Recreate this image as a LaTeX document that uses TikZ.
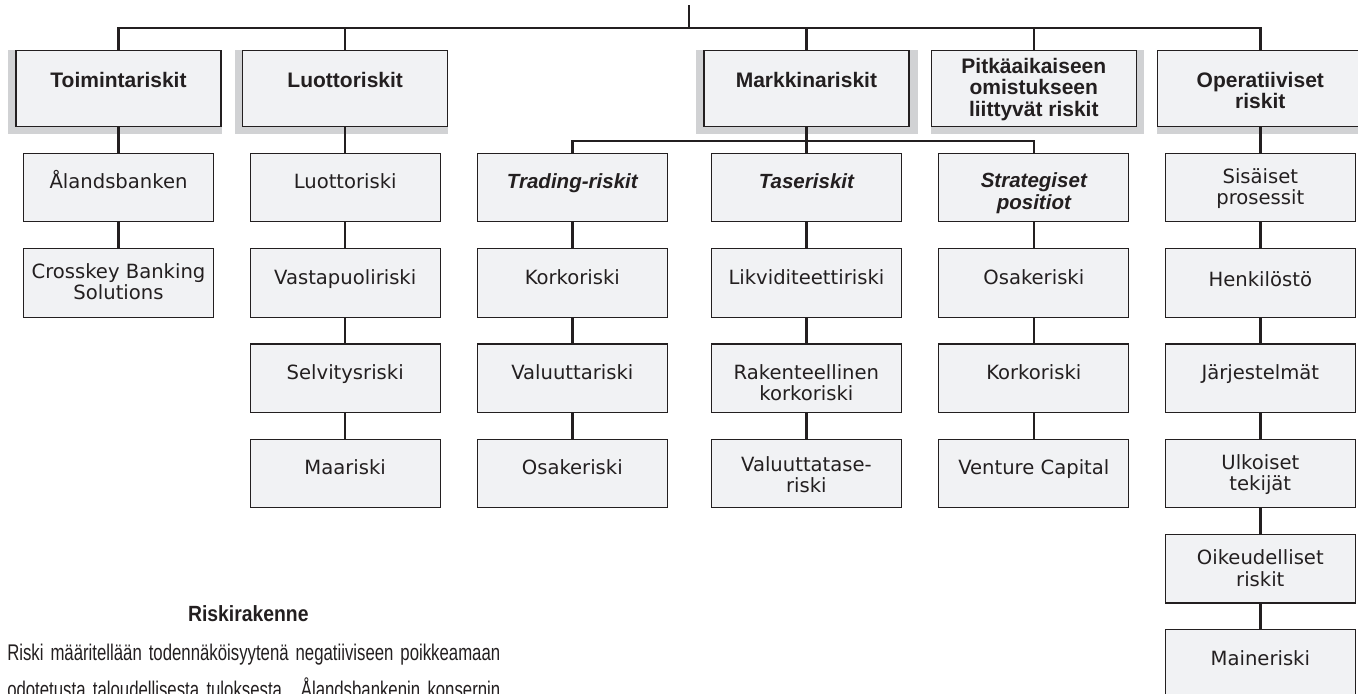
\documentclass[tikz,border=0pt]{standalone}
\usepackage{fontspec}
\usepackage{graphicx}
\setmainfont{DejaVu Sans}
\newfontfamily\hfam{Liberation Sans}
\usetikzlibrary{calc,backgrounds}
\definecolor{boxfill}{RGB}{241,242,244}
\definecolor{shadowgray}{RGB}{209,210,212}
\definecolor{ink}{RGB}{35,31,32}
\newcommand\ml[1]{\begin{tabular}[t]{@{}c@{}}#1\end{tabular}}
\newcommand\mkbox[7]{%
  \node[#1] (#2) at (#3,#4) {};
  \node[#5] (#2t) at ($(#2.north)+(0,#6)$) {\ml{#7}};}
\newcommand\bodyline[1]{\scalebox{0.74}[1]{\makebox[499.7pt][s]{#1}}}
\begin{document}
\begin{tikzpicture}[x=0.75pt,y=-0.75pt,
  topbox/.style={draw=ink, fill=boxfill, line width=0.9pt, minimum width=153.75pt, minimum height=57pt, anchor=north, inner sep=0pt},
  subbox/.style={draw=ink, fill=boxfill, line width=0.9pt, minimum width=142.5pt, minimum height=51.4pt, anchor=north, inner sep=0pt},
  toptext/.style={anchor=base, inner sep=0pt, text=ink, font=\hfam\bfseries\fontsize{15.75}{16}\selectfont},
  subtext/.style={anchor=base, inner sep=0pt, text=ink, font=\fontsize{14.7}{15.5}\selectfont},
  headtext/.style={anchor=base, inner sep=0pt, text=ink, font=\hfam\bfseries\itshape\fontsize{15.4}{16}\selectfont},
  conn/.style={draw=ink, line width=1.9pt},
  bodytext/.style={anchor=base west, inner sep=0pt, text=ink, font=\hfam\fontsize{17}{19}\selectfont}
]
\useasboundingbox (0,0) rectangle (1358,693);
\clip (0,0) rectangle (1358,693);

% top level
\mkbox{topbox}{t1}{118.5}{50}{toptext}{37}{Toimintariskit}
\mkbox{topbox}{t2}{345.2}{50}{toptext}{37}{Luottoriskit}
\mkbox{topbox}{t3}{806.4}{50}{toptext}{37}{Markkinariskit}
\mkbox{topbox}{t4}{1033.8}{50}{toptext}{23}{Pitkäaikaiseen\\omistukseen\\liittyvät riskit}
\mkbox{topbox}{t5}{1260.3}{50}{toptext}{37}{Operatiiviset\\riskit}

% column A
\mkbox{subbox}{a1}{118.5}{152.7}{subtext}{36}{Ålandsbanken}
\mkbox{subbox}{a2}{118.5}{248}{subtext}{30}{Crosskey Banking\\Solutions}
% column B
\mkbox{subbox}{b1}{345.2}{152.7}{subtext}{36}{Luottoriski}
\mkbox{subbox}{b2}{345.2}{248}{subtext}{36}{Vastapuoliriski}
\mkbox{subbox}{b3}{345.2}{343.3}{subtext}{36}{Selvitysriski}
\mkbox{subbox}{b4}{345.2}{438.6}{subtext}{36}{Maariski}
% column C
\mkbox{subbox}{c1}{572.3}{152.7}{headtext}{36}{Trading-riskit}
\mkbox{subbox}{c2}{572.3}{248}{subtext}{36}{Korkoriski}
\mkbox{subbox}{c3}{572.3}{343.3}{subtext}{36}{Valuuttariski}
\mkbox{subbox}{c4}{572.3}{438.6}{subtext}{36}{Osakeriski}
% column D
\mkbox{subbox}{d1}{806.4}{152.7}{headtext}{36}{Taseriskit}
\mkbox{subbox}{d2}{806.4}{248}{subtext}{36}{Likviditeettiriski}
\mkbox{subbox}{d3}{806.4}{343.3}{subtext}{36}{Rakenteellinen\\korkoriski}
\mkbox{subbox}{d4}{806.4}{438.6}{subtext}{33}{Valuuttatase-\\riski}
% column E
\mkbox{subbox}{e1}{1033.8}{152.7}{headtext}{35}{Strategiset\\positiot}
\mkbox{subbox}{e2}{1033.8}{248}{subtext}{36}{Osakeriski}
\mkbox{subbox}{e3}{1033.8}{343.3}{subtext}{36}{Korkoriski}
\mkbox{subbox}{e4}{1033.8}{438.6}{subtext}{36}{Venture Capital}
% column F
\mkbox{subbox}{f1}{1260.3}{152.7}{subtext}{31}{Sisäiset\\prosessit}
\mkbox{subbox}{f2}{1260.3}{248}{subtext}{38}{Henkilöstö}
\mkbox{subbox}{f3}{1260.3}{343.3}{subtext}{36}{Järjestelmät}
\mkbox{subbox}{f4}{1260.3}{438.6}{subtext}{31}{Ulkoiset\\tekijät}
\mkbox{subbox}{f5}{1260.3}{533.9}{subtext}{31}{Oikeudelliset\\riskit}
\mkbox{subbox}{f6}{1260.3}{629.1}{subtext}{36}{Maineriski}

% shadows
\begin{pgfonlayer}{background}
  \fill[shadowgray] ($(t1.north west)+(-7,0)$) rectangle ($(t1.south east)+(0,7)$);
  \fill[shadowgray] ($(t2.north west)+(-7,0)$) rectangle ($(t2.south east)+(0,7)$);
  \fill[shadowgray] ($(t3.north west)+(-7,0)$) rectangle ($(t3.south east)+(8,7)$);
  \fill[shadowgray] (t4.north west) rectangle ($(t4.south east)+(7,7)$);
  \fill[shadowgray] (t5.north west) rectangle ($(t5.south east)+(7,7)$);
\end{pgfonlayer}

% connectors
\coordinate (root) at (689,5);
\coordinate (bus) at (689,28);
\draw[conn] (root) -- (bus);
\draw[conn] (t1.north) |- (bus) -| (t5.north);
\foreach \n in {t2,t3,t4} \draw[conn] (\n.north) -- (\n.north |- bus);

\coordinate (mbus) at (806.4,141);
\draw[conn] (t3.south) -- (mbus);
\draw[conn] (c1.north) |- (mbus) -| (e1.north);
\draw[conn] (d1.north) -- (d1.north |- mbus);

\draw[conn] (t1.south) -- (a1.north);
\draw[conn] (a1.south) -- (a2.north);
\draw[conn] (t2.south) -- (b1.north);
\draw[conn] (b1.south) -- (b2.north);
\draw[conn] (b2.south) -- (b3.north);
\draw[conn] (b3.south) -- (b4.north);
\draw[conn] (c1.south) -- (c2.north);
\draw[conn] (c2.south) -- (c3.north);
\draw[conn] (c3.south) -- (c4.north);
\draw[conn] (d1.south) -- (d2.north);
\draw[conn] (d2.south) -- (d3.north);
\draw[conn] (d3.south) -- (d4.north);
\draw[conn] (e1.south) -- (e2.north);
\draw[conn] (e2.south) -- (e3.north);
\draw[conn] (e3.south) -- (e4.north);
\draw[conn] (t5.south) -- (f1.north);
\draw[conn] (f1.south) -- (f2.north);
\draw[conn] (f2.south) -- (f3.north);
\draw[conn] (f3.south) -- (f4.north);
\draw[conn] (f4.south) -- (f5.north);
\draw[conn] (f5.south) -- (f6.north);

% bottom text
\node[anchor=base, inner sep=0pt, text=ink, font=\hfam\bfseries\fontsize{16.5}{18}\selectfont] (ttl) at (248.3,621.5) {\scalebox{0.88}[1]{Riskirakenne}};
\node[bodytext] (p1) at (7,660) {\bodyline{Riski määritellään todennäköisyytenä negatiiviseen poikkeamaan}};
\node[bodytext] (p2) at (7,697) {\bodyline{odotetusta taloudellisesta tuloksesta. Ålandsbankenin konsernin}};
\end{tikzpicture}
\end{document}
